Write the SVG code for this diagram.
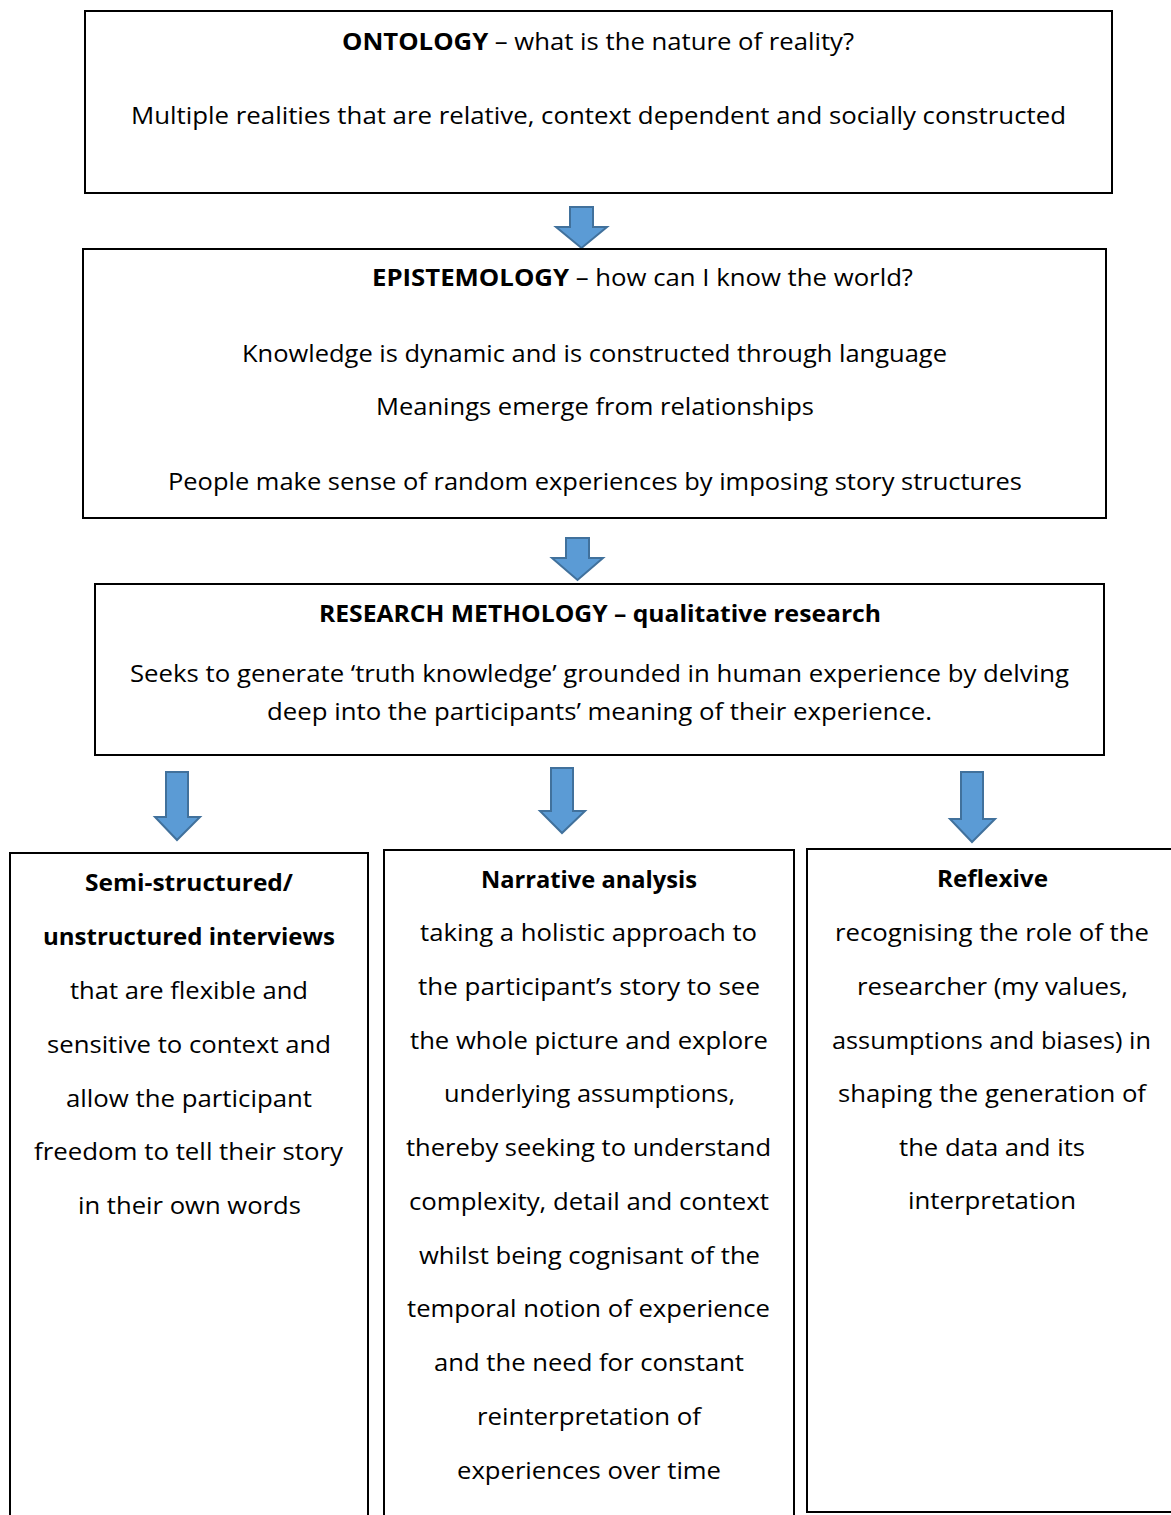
<svg xmlns="http://www.w3.org/2000/svg" width="1171" height="1515" viewBox="0 0 1171 1515">
  <style>
    .box { fill: #ffffff; stroke: #000000; stroke-width: 2; }
    .arrow { fill: #5B9BD5; stroke: #41719C; stroke-width: 2; stroke-linejoin: miter; }
    text { font-family: "Open Sans", "Noto Sans", "Liberation Sans", sans-serif; font-size: 24px; fill: #000000; text-anchor: middle; }
    .b { font-weight: bold; }
  </style>
  <rect width="1171" height="1515" fill="#ffffff"/>

  <!-- connectors: block arrows -->
  <g id="connectors">
    <path class="arrow" d="M570,207 H593 V227 H607 L581.5,248 L556,227 H570 Z"/>
    <path class="arrow" d="M566,538 H589 V558 H603 L577.5,580 L552,558 H566 Z"/>
    <path class="arrow" d="M166,772 H188 V817 H200 L177,840 L155,817 H166 Z"/>
    <path class="arrow" d="M551,768 H573 V811 H585 L562,833 L540,811 H551 Z"/>
    <path class="arrow" d="M961,772 H983 V819 H995 L972,842 L950,819 H961 Z"/>
  </g>

  <g id="ontology">
    <rect class="box" x="85" y="11" width="1027" height="182"/>
    <text x="598" y="50" textLength="512" lengthAdjust="spacingAndGlyphs"><tspan class="b">ONTOLOGY</tspan> – what is the nature of reality?</text>
    <text x="598.5" y="124" textLength="935" lengthAdjust="spacingAndGlyphs">Multiple realities that are relative, context dependent and socially constructed</text>
  </g>

  <g id="epistemology">
    <rect class="box" x="83" y="249" width="1023" height="269"/>
    <text x="642.5" y="286" textLength="541" lengthAdjust="spacingAndGlyphs"><tspan class="b">EPISTEMOLOGY</tspan> – how can I know the world?</text>
    <text x="594.5" y="362" textLength="705" lengthAdjust="spacingAndGlyphs">Knowledge is dynamic and is constructed through language</text>
    <text x="595" y="415" textLength="438" lengthAdjust="spacingAndGlyphs">Meanings emerge from relationships</text>
    <text x="595" y="490" textLength="854" lengthAdjust="spacingAndGlyphs">People make sense of random experiences by imposing story structures</text>
  </g>

  <g id="methodology">
    <rect class="box" x="95" y="584" width="1009" height="171"/>
    <text class="b" x="600" y="622" textLength="562" lengthAdjust="spacingAndGlyphs">RESEARCH METHOLOGY – qualitative research</text>
    <text x="599.5" y="682" textLength="939" lengthAdjust="spacingAndGlyphs">Seeks to generate ‘truth knowledge’ grounded in human experience by delving</text>
    <text x="599.5" y="720" textLength="665" lengthAdjust="spacingAndGlyphs">deep into the participants’ meaning of their experience.</text>
  </g>

  <g id="interviews">
    <path class="box" d="M10,1520 V853 H368 V1520"/>
    <text class="b" x="189" y="891" textLength="208" lengthAdjust="spacingAndGlyphs">Semi-structured/</text>
    <text class="b" x="189" y="945" textLength="292" lengthAdjust="spacingAndGlyphs">unstructured interviews</text>
    <text x="189" y="999" textLength="238" lengthAdjust="spacingAndGlyphs">that are flexible and</text>
    <text x="189" y="1053" textLength="284" lengthAdjust="spacingAndGlyphs">sensitive to context and</text>
    <text x="189" y="1107" textLength="246" lengthAdjust="spacingAndGlyphs">allow the participant</text>
    <text x="188.5" y="1160" textLength="309" lengthAdjust="spacingAndGlyphs">freedom to tell their story</text>
    <text x="189.5" y="1214" textLength="223" lengthAdjust="spacingAndGlyphs">in their own words</text>
  </g>

  <g id="narrative">
    <path class="box" d="M384,1520 V850 H794 V1520"/>
    <text class="b" x="589" y="888" textLength="216" lengthAdjust="spacingAndGlyphs">Narrative analysis</text>
    <text x="588.5" y="941" textLength="337" lengthAdjust="spacingAndGlyphs">taking a holistic approach to</text>
    <text x="589" y="995" textLength="342" lengthAdjust="spacingAndGlyphs">the participant’s story to see</text>
    <text x="589" y="1049" textLength="358" lengthAdjust="spacingAndGlyphs">the whole picture and explore</text>
    <text x="589.5" y="1102" textLength="291" lengthAdjust="spacingAndGlyphs">underlying assumptions,</text>
    <text x="588.5" y="1156" textLength="365" lengthAdjust="spacingAndGlyphs">thereby seeking to understand</text>
    <text x="589" y="1210" textLength="360" lengthAdjust="spacingAndGlyphs">complexity, detail and context</text>
    <text x="589.5" y="1264" textLength="341" lengthAdjust="spacingAndGlyphs">whilst being cognisant of the</text>
    <text x="588.5" y="1317" textLength="363" lengthAdjust="spacingAndGlyphs">temporal notion of experience</text>
    <text x="589" y="1371" textLength="310" lengthAdjust="spacingAndGlyphs">and the need for constant</text>
    <text x="589" y="1425" textLength="224" lengthAdjust="spacingAndGlyphs">reinterpretation of</text>
    <text x="589" y="1479" textLength="264" lengthAdjust="spacingAndGlyphs">experiences over time</text>
  </g>

  <g id="reflexive">
    <path class="box" d="M1175,849 H807 V1512 H1175"/>
    <text class="b" x="992.5" y="887" textLength="111" lengthAdjust="spacingAndGlyphs">Reflexive</text>
    <text x="992" y="941" textLength="314" lengthAdjust="spacingAndGlyphs">recognising the role of the</text>
    <text x="992.5" y="995" textLength="271" lengthAdjust="spacingAndGlyphs">researcher (my values,</text>
    <text x="991.5" y="1049" textLength="319" lengthAdjust="spacingAndGlyphs">assumptions and biases) in</text>
    <text x="992" y="1102" textLength="308" lengthAdjust="spacingAndGlyphs">shaping the generation of</text>
    <text x="992" y="1156" textLength="186" lengthAdjust="spacingAndGlyphs">the data and its</text>
    <text x="992" y="1209" textLength="168" lengthAdjust="spacingAndGlyphs">interpretation</text>
  </g>
</svg>
